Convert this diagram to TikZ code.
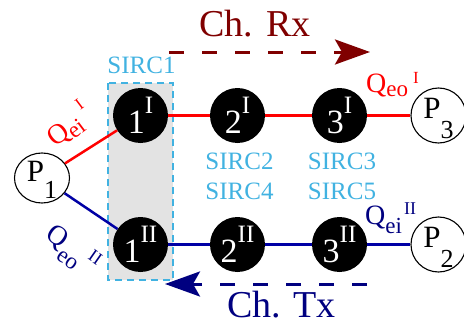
\documentclass[tikz,border=0pt]{standalone}
\usepackage{fontspec}
\setmainfont{Liberation Serif}
\usetikzlibrary{arrows.meta,shapes.geometric}
\definecolor{rxred}{RGB}{128,0,0}
\definecolor{txblue}{RGB}{0,0,128}
\definecolor{lnblue}{RGB}{0,0,165}
\definecolor{sirc}{RGB}{65,178,225}
\definecolor{boxgray}{RGB}{227,227,227}
\newcommand{\fs}[1]{\fontsize{#1}{#1}\selectfont}
\newcommand{\blk}[2]{\fs{34}#1\raisebox{20pt}{\fs{25}#2}}
\newcommand{\plab}[3]{\raisebox{-#2}[0pt][0pt]{\fs{31}P\raisebox{-#3}{\fs{26}#1}}}
\begin{document}
\begin{tikzpicture}[x=1pt,y=-1pt,
  blacknode/.style={circle, fill=black, text=white, minimum size=55pt, inner sep=0pt},
  pnode/.style={circle, draw=black, line width=1.1pt, fill=white, minimum size=55pt, inner sep=0pt},
  redline/.style={red, line width=2.5pt},
  blueline/.style={lnblue, line width=2.5pt},
  chanarrow/.style={line width=3pt, dash pattern=on 15pt off 18pt, -{Stealth[length=35pt,width=25pt,inset=7pt]}},
  sirclab/.style={text=sirc, inner sep=0pt, anchor=base, font=\fs{25}},
  qlab/.style={inner sep=0pt, anchor=base west},
  chlab/.style={inner sep=0pt, anchor=base, font=\fs{38}},
]
\useasboundingbox (0,0) rectangle (464,324);
% SIRC1 box
\draw[draw=sirc, fill=boxgray, line width=1.3pt, dash pattern=on 7pt off 5pt] (108,83) rectangle (173,280);
% nodes
\node[pnode, ellipse, minimum width=55pt, minimum height=50pt] (P1) at (42,178) {\plab{1}{3pt}{17pt}};
\node[pnode] (P3) at (438.5,115.5) {\plab{3}{3pt}{20pt}};
\node[pnode] (P2) at (438.5,244.5) {\plab{2}{3pt}{20pt}};
\node[blacknode] (n1a) at (140.5,115.5) {\blk{1}{I}};
\node[blacknode] (n2a) at (237.5,115.5) {\blk{2}{I}};
\node[blacknode] (n3a) at (339.5,115.5) {\blk{3}{I}};
\node[blacknode] (n1b) at (140.5,244.5) {\blk{1}{II}};
\node[blacknode] (n2b) at (237.5,244.5) {\blk{2}{II}};
\node[blacknode] (n3b) at (339.5,244.5) {\blk{3}{II}};
% links
\draw[redline] (P1) -- (n1a);
\draw[redline] (n1a) -- (n2a);
\draw[redline] (n2a) -- (n3a);
\draw[redline] (n3a) -- (P3);
\draw[blueline] (P1) -- (n1b);
\draw[blueline] (n1b) -- (n2b);
\draw[blueline] (n2b) -- (n3b);
\draw[blueline] (n3b) -- (P2);
% SIRC labels
\node[sirclab] (s1) at (141.5,74) {SIRC1};
\node[sirclab] (s2) at (239.5,169) {SIRC2};
\node[sirclab] (s4) at (239.5,199) {SIRC4};
\node[sirclab] (s3) at (342,169) {SIRC3};
\node[sirclab] (s5) at (342,199) {SIRC5};
% Q labels
\node[qlab, text=red] (qeo1) at (366,92) {\fs{28}Q\raisebox{-5pt}{\fs{23}eo}\hspace{5pt}\raisebox{9pt}{\fs{17}I}};
\node[qlab, text=txblue] (qei2) at (365,224) {\fs{28}Q\raisebox{-9pt}{\fs{23}ei}\hspace{2pt}\raisebox{10pt}{\fs{18}II}};
\node[qlab, text=red, rotate=37] (qei1) at (55,148) {\fs{28}Q\raisebox{-5pt}{\fs{23}ei}\hspace{6pt}\raisebox{15pt}{\fs{17}I}};
\node[qlab, text=txblue, rotate=-35] (qeo2) at (44.6,237.7) {\fs{28}Q\raisebox{-11pt}{\fs{23}eo}\hspace{5pt}\raisebox{7pt}{\fs{18}II}};
% channel arrows
\coordinate (rxs) at (169,52);
\coordinate (rxe) at (370,52);
\draw[chanarrow, rxred] (rxs) -- (rxe);
\node[chlab, text=rxred] (rx) at (255,37) {Ch. Rx};
\coordinate (txs) at (367,284);
\coordinate (txe) at (165,284);
\draw[chanarrow, txblue] (txs) -- (txe);
\node[chlab, text=txblue] (tx) at (281.5,317) {Ch. Tx};
\end{tikzpicture}
\end{document}
